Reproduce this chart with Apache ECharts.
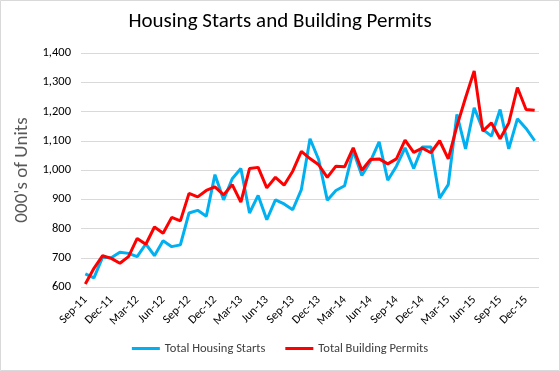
<!DOCTYPE html>
<html>
<head>
<meta charset="utf-8">
<script src="https://cdn.jsdelivr.net/npm/echarts@6/dist/echarts.min.js"></script>
<style>
html,body{margin:0;padding:0;background:#fff;}
#chart{width:560px;height:371px;}
</style>
</head>
<body>
<div id="chart"></div>
<script>
const months = ["Sep-11","Oct-11","Nov-11","Dec-11","Jan-12","Feb-12","Mar-12","Apr-12","May-12","Jun-12","Jul-12","Aug-12",
"Sep-12","Oct-12","Nov-12","Dec-12","Jan-13","Feb-13","Mar-13","Apr-13","May-13","Jun-13","Jul-13","Aug-13",
"Sep-13","Oct-13","Nov-13","Dec-13","Jan-14","Feb-14","Mar-14","Apr-14","May-14","Jun-14","Jul-14","Aug-14",
"Sep-14","Oct-14","Nov-14","Dec-14","Jan-15","Feb-15","Mar-15","Apr-15","May-15","Jun-15","Jul-15","Aug-15",
"Sep-15","Oct-15","Nov-15","Dec-15","Jan-16"];
const housingStarts = [645,631,702,700,719,715,704,747,707,758,738,744,
853,862,842,984,898,970,1005,853,913,830,898,884,
864,933,1107,1036,897,930,946,1066,981,1030,1096,965,
1013,1076,1005,1079,1079,904,950,1190,1072,1213,1139,1116,
1207,1072,1175,1142,1100];
const buildingPermits = [610,664,707,698,681,704,766,746,805,784,838,826,
920,908,930,942,915,950,890,1005,1009,939,975,948,
996,1064,1039,1018,975,1013,1011,1076,999,1036,1038,1021,
1038,1102,1060,1075,1059,1100,1038,1150,1247,1339,1133,1161,
1107,1161,1282,1207,1204];
const seriesNames = ["Total Housing Starts","Total Building Permits"];
const titleText = "Housing Starts and Building Permits";
const yAxisTitle = "000's of Units";

const font = "Carlito, Lato, 'Liberation Sans', sans-serif";
const chart = echarts.init(document.getElementById('chart'));
chart.setOption({
  backgroundColor:'#fff',
  animation:false,
  graphic:[{type:'rect',shape:{x:0.5,y:0.5,width:559,height:370},style:{fill:'none',stroke:'#d9d9d9',lineWidth:1},silent:true}],
  title:{text:titleText,left:'center',top:6,textStyle:{fontFamily:font,fontSize:21,fontWeight:'normal',color:'#000'}},
  grid:{left:81,right:21,top:53,bottom:84,containLabel:false},
  legend:{bottom:11,left:'center',itemWidth:28,itemHeight:3,itemGap:20,icon:'rect',
    textStyle:{fontFamily:font,fontSize:12.5,color:'#404040'},data:seriesNames},
  xAxis:{type:'category',data:months,boundaryGap:true,
    axisLine:{show:false},axisTick:{show:false},
    axisLabel:{interval:2,rotate:45,fontFamily:font,fontSize:12,color:'#000',margin:11}},
  yAxis:{type:'value',min:600,max:1400,interval:100,
    name:yAxisTitle,nameLocation:'middle',nameGap:47,nameRotate:90,
    nameTextStyle:{fontFamily:font,fontSize:19,color:'#595959'},
    axisLine:{show:false},axisTick:{show:false},
    axisLabel:{fontFamily:font,fontSize:12.5,color:'#000',margin:10,
      formatter:v=>v.toLocaleString('en-US')},
    splitLine:{lineStyle:{color:'#d9d9d9',width:1}}},
  series:[
    {name:seriesNames[0],type:'line',data:housingStarts,symbol:'none',lineStyle:{color:'#00B0F0',width:3},itemStyle:{color:'#00B0F0'}},
    {name:seriesNames[1],type:'line',data:buildingPermits,symbol:'none',lineStyle:{color:'#FF0000',width:3},itemStyle:{color:'#FF0000'}}
  ]
});
</script>
</body>
</html>
